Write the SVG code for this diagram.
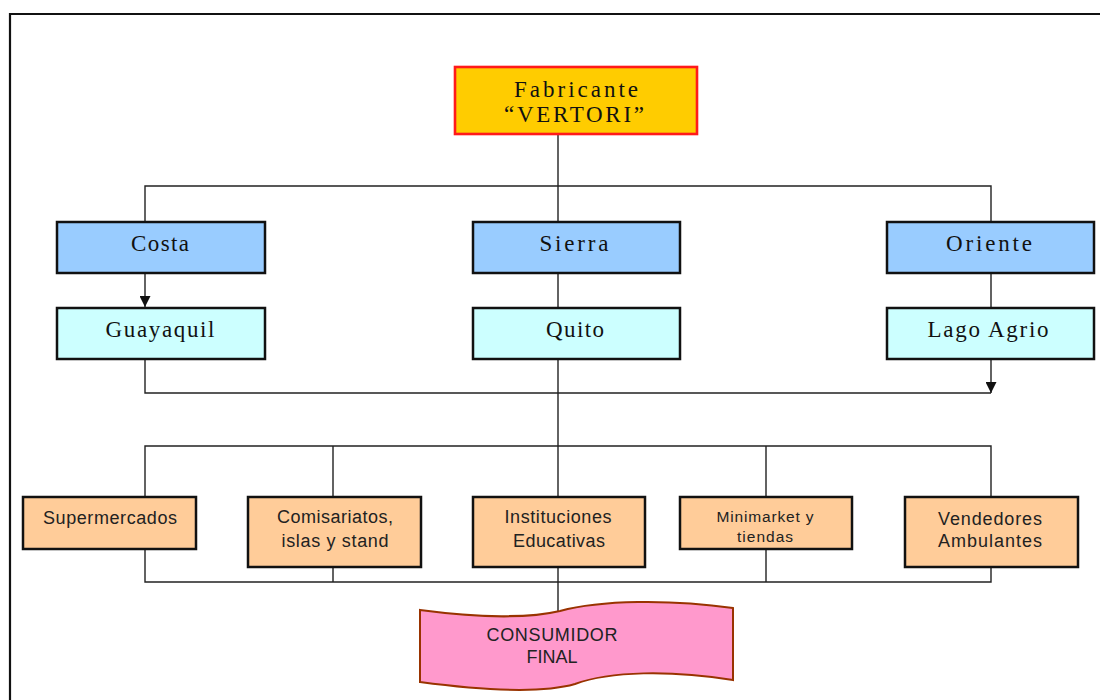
<svg xmlns="http://www.w3.org/2000/svg" width="1100" height="700" viewBox="0 0 1100 700">
<defs>
<style>
.ln{fill:none;stroke:#222;stroke-width:1.4}
.box{stroke:#111;stroke-width:2.5}
.blue{fill:#99CCFF}
.cyan{fill:#CCFFFF}
.org{fill:#FFCC99}
.sf{font-family:"Liberation Serif","Times New Roman",serif;font-size:23px;fill:#111;text-anchor:middle}
.ss{font-family:"Liberation Sans",Arial,sans-serif;font-size:18px;fill:#222;text-anchor:middle}
</style>
<marker id="ad" markerUnits="userSpaceOnUse" markerWidth="11" markerHeight="11" viewBox="0 0 11 11" refX="5.5" refY="11" orient="0">
<path d="M0,0 L11,0 L5.5,11 Z" fill="#111"/>
</marker>
</defs>
<rect width="1100" height="700" fill="#fff"/>
<path d="M10,702 L10,14 L1102,14" fill="none" stroke="#111" stroke-width="2.2"/>

<g id="connectors">
<path class="ln" d="M558,135 V222 M145,222 V186 H991 V222"/>
<path class="ln" d="M145,273 V307" marker-end="url(#ad)"/>
<path class="ln" d="M558,273 V308 M991,273 V308"/>
<path class="ln" d="M145,360 V393 H991"/>
<path class="ln" d="M991,360 V393" marker-end="url(#ad)"/>
<path class="ln" d="M558,360 V497"/>
<path class="ln" d="M145,497 V446 H991 V497 M333,446 V497 M766,446 V497"/>
<path class="ln" d="M145,550 V582 H991 V567 M333,567 V582 M766,550 V582 M558,567 V613"/>
</g>

<g id="fabricante">
<rect x="455" y="67" width="242" height="67" fill="#FFCC00" stroke="#FF1A1A" stroke-width="2.6"/>
<text class="sf" x="576" y="97" textLength="124" lengthAdjust="spacing">Fabricante</text>
<text class="sf" x="574" y="122" textLength="140" lengthAdjust="spacing">“VERTORI”</text>
</g>

<g id="costa"><rect class="box blue" x="57" y="222" width="208" height="51"/><text class="sf" x="160" y="251" textLength="58" lengthAdjust="spacing">Costa</text></g>
<g id="sierra"><rect class="box blue" x="473" y="222" width="207" height="51"/><text class="sf" x="574" y="251" textLength="69" lengthAdjust="spacing">Sierra</text></g>
<g id="oriente"><rect class="box blue" x="887" y="222" width="207" height="51"/><text class="sf" x="989" y="251" textLength="86" lengthAdjust="spacing">Oriente</text></g>

<g id="guayaquil"><rect class="box cyan" x="57" y="308" width="208" height="51"/><text class="sf" x="160" y="337" textLength="109" lengthAdjust="spacing">Guayaquil</text></g>
<g id="quito"><rect class="box cyan" x="473" y="308" width="207" height="51"/><text class="sf" x="575" y="337" textLength="58" lengthAdjust="spacing">Quito</text></g>
<g id="lagoagrio"><rect class="box cyan" x="887" y="308" width="207" height="51"/><text class="sf" x="988" y="337" textLength="121" lengthAdjust="spacing">Lago Agrio</text></g>

<g id="supermercados"><rect class="box org" x="23" y="497" width="173" height="52"/><text class="ss" x="110" y="524" textLength="134" lengthAdjust="spacing">Supermercados</text></g>
<g id="comisariatos"><rect class="box org" x="248" y="497" width="173" height="70"/><text class="ss" x="335" y="523" textLength="116" lengthAdjust="spacing">Comisariatos,</text><text class="ss" x="335" y="547" textLength="107" lengthAdjust="spacing">islas y stand</text></g>
<g id="instituciones"><rect class="box org" x="473" y="497" width="172" height="70"/><text class="ss" x="558" y="523" textLength="107" lengthAdjust="spacing">Instituciones</text><text class="ss" x="559" y="547" textLength="92" lengthAdjust="spacing">Educativas</text></g>
<g id="minimarket"><rect class="box org" x="680" y="497" width="172" height="52"/><text class="ss" x="765" y="522" style="font-size:15.5px" textLength="97" lengthAdjust="spacing">Minimarket y</text><text class="ss" x="765" y="542" style="font-size:15.5px" textLength="56" lengthAdjust="spacing">tiendas</text></g>
<g id="vendedores"><rect class="box org" x="905" y="497" width="173" height="70"/><text class="ss" x="990" y="525" textLength="104" lengthAdjust="spacing">Vendedores</text><text class="ss" x="990" y="547" textLength="104" lengthAdjust="spacing">Ambulantes</text></g>

<g id="consumidor">
<path d="M420,610 C480,618 530,618 560,611 C600,600 670,599 733,608 L733,680 C670,670 610,671 575,684 C540,694 480,690 420,682 Z" fill="#FF99CC" stroke="#993300" stroke-width="2"/>
<text class="ss" x="552" y="641" textLength="131" lengthAdjust="spacing">CONSUMIDOR</text>
<text class="ss" x="552" y="663" textLength="51" lengthAdjust="spacing">FINAL</text>
</g>
</svg>
